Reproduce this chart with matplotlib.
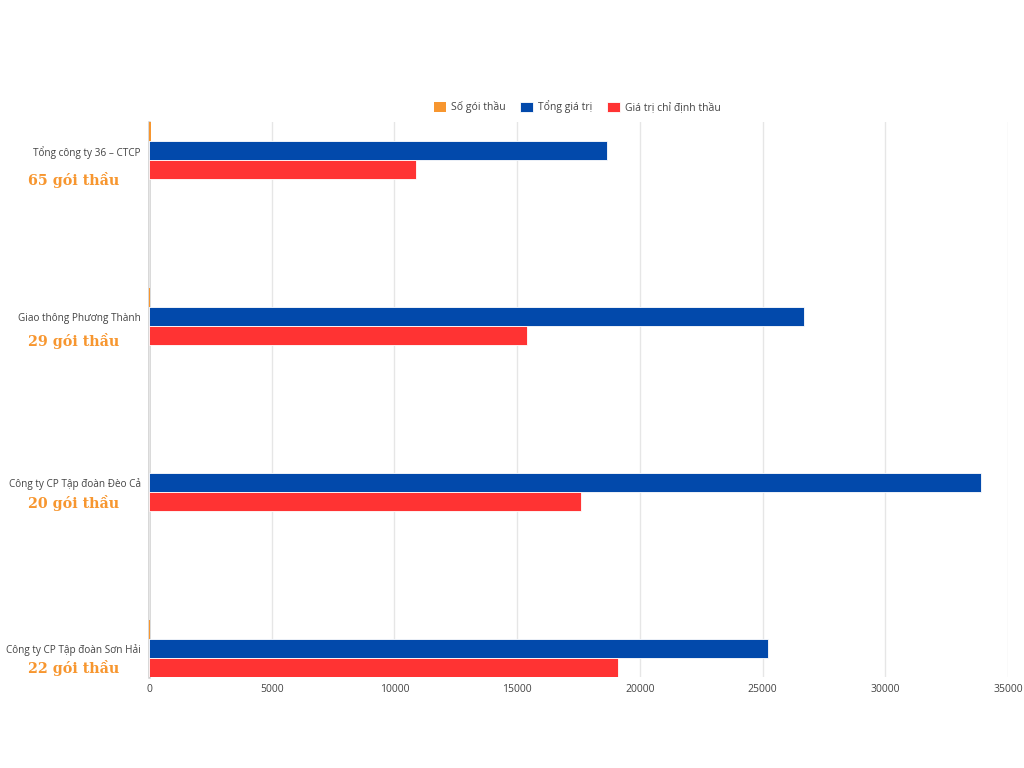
import numpy as np
import matplotlib as mpl
import matplotlib.pyplot as plt

plt.rcParams['font.family'] = ['Open Sans', 'DejaVu Sans']

# data
companies = ['Tổng công ty 36 – CTCP', 'Giao thông Phương Thành',
             'Công ty CP Tập đoàn Đèo Cả', 'Công ty CP Tập đoàn Sơn Hải']
so_goi_thau = [65, 29, 20, 22]
tong_gia_tri = [18660, 26690, 33900, 25220]
gia_tri_chi_dinh = [10880, 15400, 17600, 19110]
series_names = ['Số gói thầu', 'Tổng giá trị', 'Giá trị chỉ định thầu']
note_labels = ['65 gói thầu', '29 gói thầu', '20 gói thầu', '22 gói thầu']
xticks = [0, 5000, 10000, 15000, 20000, 25000, 30000, 35000]

colors = ['#F7962F', '#0249AB', '#FF3333']
text_gray = '#444444'

fig = plt.figure(figsize=(10.24, 7.68), dpi=100)
ax = fig.add_axes([149/1024, 1 - 677/768, (1008 - 149)/1024, (677 - 122)/768])

ax.grid(axis='x', color='#e6e6e6', linewidth=1, zorder=0)
ax.axvline(0, color='#cccccc', linewidth=1.8, zorder=1, clip_on=False)

y = np.arange(len(companies))
h = 0.115
series = [so_goi_thau, tong_gia_tri, gia_tri_chi_dinh]
for i, (vals, name, c) in enumerate(zip(series, series_names, colors)):
    ec = c if i == 0 else 'white'
    ax.barh(y + (i - 1) * h, vals, height=h, color=c, label=name,
            edgecolor=ec, linewidth=0.6 if i else 0, zorder=3)

ax.set_ylim(len(companies) - 1 + 1.5 * h, -1.5 * h)
ax.set_xlim(0, 35000)
ax.set_xticks(xticks)
ax.set_xticklabels([str(t) for t in xticks])
ax.set_yticks(y)
ax.set_yticklabels(companies)
ax.tick_params(axis='x', length=0, labelsize=7.5, colors=text_gray, pad=5)
ax.tick_params(axis='y', length=0, labelsize=7.2, colors=text_gray, pad=6)
for s in ax.spines.values():
    s.set_visible(False)

# orange notes under each company name (pixel offsets below the label)
offsets_px = [29, 24, 21, 20]
for yi, txt, off in zip(y, note_labels, offsets_px):
    ax.annotate(txt, xy=(0, yi), xycoords=('axes fraction', 'data'),
                xytext=(-75 * 0.72, -off * 0.72), textcoords='offset points',
                ha='center', va='center', fontsize=10.3, fontweight='bold',
                family='DejaVu Serif', color=colors[0])

ax.legend(loc='center', bbox_to_anchor=(577/1024, 1 - 107/768),
          bbox_transform=fig.transFigure, ncol=3, frameon=False,
          fontsize=7.5, handlelength=1.2, handleheight=1.2,
          columnspacing=1.4, handletextpad=0.5, labelcolor=text_gray)

plt.savefig('out.png', dpi=100)
